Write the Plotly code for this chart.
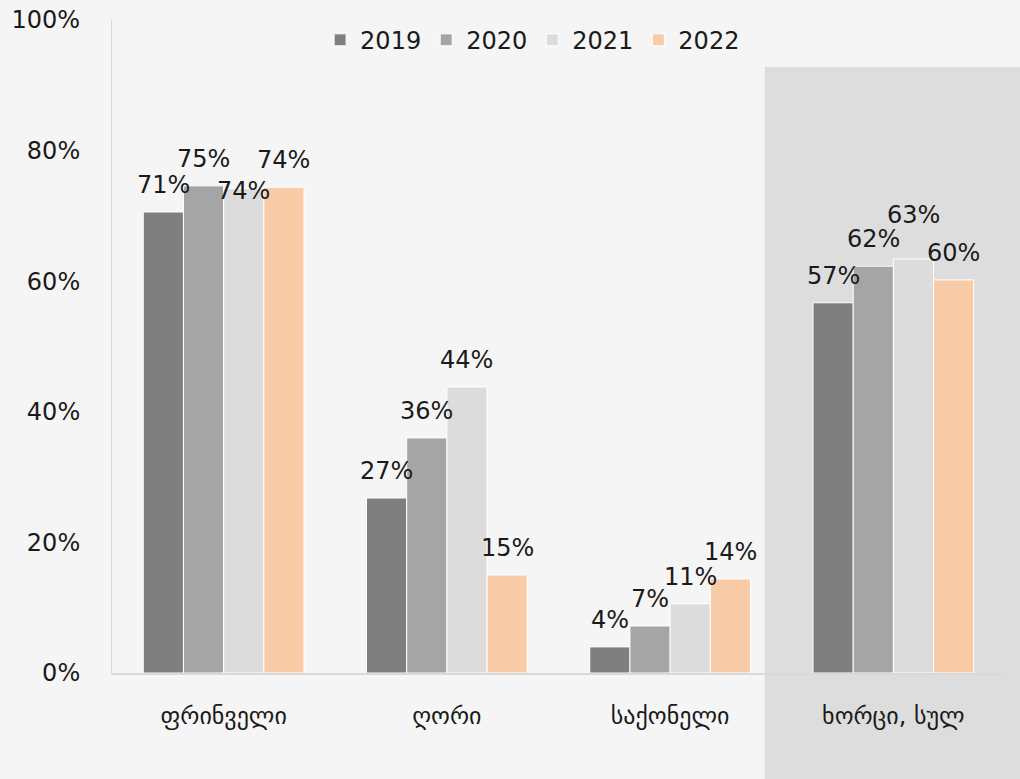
import plotly.graph_objects as go

# ---------------------------------------------------------------------------
# Data (percent)
# ---------------------------------------------------------------------------
categories = ["ფრინველი", "ღორი", "საქონელი", "ხორცი, სულ"]
years = ["2019", "2020", "2021", "2022"]
values_2019 = [70.6, 26.8, 4.0, 56.7]
values_2020 = [74.6, 36.0, 7.2, 62.3]
values_2021 = [74.2, 43.8, 10.6, 63.4]
values_2022 = [74.4, 15.0, 14.4, 60.2]
labels_2019 = ["71%", "27%", "4%", "57%"]
labels_2020 = ["75%", "36%", "7%", "62%"]
labels_2021 = ["74%", "44%", "11%", "63%"]
labels_2022 = ["74%", "15%", "14%", "60%"]

series = [values_2019, values_2020, values_2021, values_2022]
series_labels = [labels_2019, labels_2020, labels_2021, labels_2022]
colors = ["#7f7f7f", "#a5a5a5", "#dcdcdc", "#f9cba7"]

FONT = "'DejaVu Sans', sans-serif"
TEXT = "#1a1a1a"
FS = 24
BARGAP = 0.28

# label nudges (pixels) where Excel moved overlapping labels
nudge = {(2, 0): -30, (2, 3): 17}

fig = go.Figure()
for year, vals, col in zip(years, series, colors):
    fig.add_trace(go.Bar(
        name=year,
        x=categories,
        y=vals,
        marker=dict(color=col, line=dict(color="white", width=1)),
        hoverinfo="skip",
    ))

# data labels, placed over each bar via category index
bar_w = (1 - BARGAP) / len(years)
annotations = []
for j, (vals, labs) in enumerate(zip(series, series_labels)):
    for i, (v, lab) in enumerate(zip(vals, labs)):
        annotations.append(dict(
            x=i + (j - 1.5) * bar_w,
            y=v,
            xref="x",
            yref="y",
            text=lab,
            showarrow=False,
            yanchor="middle",
            yshift=27 + nudge.get((j, i), 0),
            font=dict(size=FS, color=TEXT, family=FONT),
        ))

fig.update_layout(
    width=1020,
    height=779,
    paper_bgcolor="#f5f5f5",
    plot_bgcolor="rgba(0,0,0,0)",
    margin=dict(l=112, r=15, t=20, b=106),
    barmode="group",
    bargap=BARGAP,
    bargroupgap=0,
    font=dict(family=FONT, size=FS, color=TEXT),
    legend=dict(
        orientation="h",
        x=0.471,
        xanchor="center",
        y=0.969,
        yanchor="middle",
        font=dict(size=FS),
        bgcolor="rgba(0,0,0,0)",
        itemwidth=30,
        traceorder="normal",
    ),
    annotations=annotations,
    shapes=[dict(
        type="rect",
        xref="paper",
        yref="paper",
        x0=0.731,
        x1=1.02,
        y0=-0.2,
        y1=0.928,
        fillcolor="#dddddd",
        line=dict(width=0),
        layer="below",
    )],
)

fig.update_xaxes(
    automargin=False,
    showline=True,
    linecolor="#d9d9d9",
    linewidth=2,
    showgrid=False,
    ticks="outside",
    ticklen=20,
    tickcolor="rgba(0,0,0,0)",
    tickfont=dict(size=24, family=FONT, color=TEXT),
)
fig.update_yaxes(
    automargin=False,
    range=[0, 100],
    dtick=20,
    ticksuffix="%",
    showline=True,
    linecolor="#d9d9d9",
    linewidth=1,
    showgrid=False,
    zeroline=False,
    ticks="outside",
    ticklen=26,
    tickcolor="rgba(0,0,0,0)",
    tickfont=dict(size=FS, family=FONT, color=TEXT),
)

fig.write_html(
    "out.html",
    config={"displayModeBar": False},
    post_script="document.body.style.margin='0';document.body.style.overflow='hidden';",
)
